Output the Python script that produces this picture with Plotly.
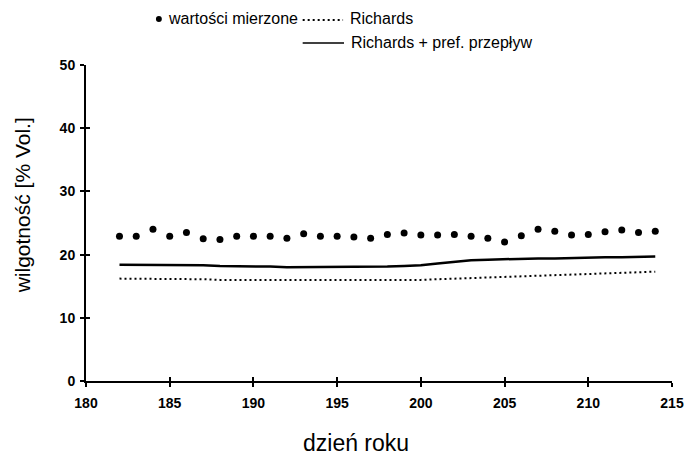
import plotly.graph_objects as go

days = list(range(182, 215))

measured = [22.9, 22.9, 24.0, 22.9, 23.5, 22.5, 22.4, 22.9, 22.9, 22.9,
            22.6, 23.3, 22.9, 22.9, 22.8, 22.6, 23.2, 23.4, 23.1, 23.1,
            23.2, 22.9, 22.6, 22.0, 23.0, 24.0, 23.7, 23.1, 23.2, 23.6,
            23.9, 23.5, 23.7]

richards_pref = [18.4, 18.4, 18.4, 18.3, 18.3, 18.3, 18.2, 18.2, 18.1, 18.1,
                 18.0, 18.0, 18.0, 18.0, 18.1, 18.1, 18.1, 18.2, 18.3, 18.6,
                 18.9, 19.1, 19.2, 19.3, 19.3, 19.4, 19.4, 19.5, 19.5, 19.6,
                 19.6, 19.6, 19.7]

richards = [16.2, 16.2, 16.2, 16.1, 16.1, 16.1, 16.0, 16.0, 16.0, 16.0,
            15.9, 15.9, 15.9, 15.9, 15.9, 15.9, 15.9, 15.95, 16.0, 16.1,
            16.2, 16.3, 16.4, 16.5, 16.6, 16.7, 16.8, 16.9, 17.0, 17.1,
            17.2, 17.25, 17.3]

x_ticks = [180, 185, 190, 195, 200, 205, 210, 215]
y_ticks = [0, 10, 20, 30, 40, 50]

legend_labels = ["wartości mierzone", "Richards", "Richards + pref. przepływ"]
x_title = "dzień roku"
y_title = "wilgotność [% Vol.]"

FONT = "Liberation Sans, Arial, sans-serif"

fig = go.Figure()
fig.add_trace(go.Scatter(x=days, y=richards_pref, mode="lines",
                         line=dict(color="black", width=2.5), showlegend=False))
fig.add_trace(go.Scatter(x=days, y=richards, mode="lines",
                         line=dict(color="black", width=2, dash="2px,3px"), showlegend=False))
fig.add_trace(go.Scatter(x=days, y=measured, mode="markers",
                         marker=dict(color="black", size=7, symbol="circle"), showlegend=False))

axis_common = dict(showgrid=False, zeroline=False, showline=True, linecolor="black",
                   linewidth=2, tickcolor="black", tickwidth=2, ticklen=4)

fig.update_layout(
    width=696, height=458,
    margin=dict(l=86, r=15, t=65, b=77),
    paper_bgcolor="white", plot_bgcolor="white",
    font=dict(family=FONT, color="black"),
    xaxis=dict(range=[180, 215], tickvals=x_ticks, ticks="outside",
               ticklabelstandoff=4,
               tickfont=dict(family=FONT, size=14, weight="bold"), **axis_common),
    yaxis=dict(range=[0, 50], tickvals=y_ticks, ticks="outside",
               ticklabelstandoff=2,
               tickfont=dict(family=FONT, size=14, weight="bold"), **axis_common),
    xaxis2=dict(range=[180, 215], tickvals=x_ticks, ticks="inside", overlaying="x",
                anchor="y", side="bottom", showticklabels=False, **axis_common),
    yaxis2=dict(range=[0, 50], tickvals=y_ticks, ticks="inside", overlaying="y",
                anchor="x", side="left", showticklabels=False, **axis_common),
)
# invisible trace to activate the overlay axes (ticks crossing the axis lines)
fig.add_trace(go.Scatter(x=[180], y=[0], xaxis="x2", yaxis="y2", mode="markers",
                         marker=dict(opacity=0), showlegend=False, hoverinfo="skip"))

# axis titles
fig.add_annotation(text=y_title, xref="paper", yref="paper", x=-0.108, y=0.555,
                   textangle=-90, showarrow=False, xanchor="center", yanchor="middle",
                   font=dict(family=FONT, size=21))
fig.add_annotation(text=x_title, xref="paper", yref="paper", x=0.4605, y=-0.197,
                   showarrow=False, xanchor="center", yanchor="middle",
                   font=dict(family=FONT, size=23))

# legend (drawn as decorations above the plot)
def px2x(px):
    return (px - 86) / 595.0

def py2y(py):
    return (381 - py) / 316.0

fig.add_shape(type="circle", xref="paper", yref="paper",
              x0=px2x(157), x1=px2x(163), y0=py2y(22), y1=py2y(16),
              fillcolor="black", line=dict(color="black", width=0))
fig.add_annotation(text=legend_labels[0], xref="paper", yref="paper", x=px2x(167), y=py2y(19),
                   xanchor="left", yanchor="middle", showarrow=False,
                   font=dict(family=FONT, size=16))
fig.add_shape(type="line", xref="paper", yref="paper",
              x0=px2x(306), x1=px2x(347), y0=py2y(20), y1=py2y(20),
              line=dict(color="black", width=2, dash="2px,3px"))
fig.add_annotation(text=legend_labels[1], xref="paper", yref="paper", x=px2x(352), y=py2y(19),
                   xanchor="left", yanchor="middle", showarrow=False,
                   font=dict(family=FONT, size=16))
fig.add_shape(type="line", xref="paper", yref="paper",
              x0=px2x(306), x1=px2x(348), y0=py2y(43), y1=py2y(43),
              line=dict(color="black", width=1.5))
fig.add_annotation(text=legend_labels[2], xref="paper", yref="paper", x=px2x(353), y=py2y(42),
                   xanchor="left", yanchor="middle", showarrow=False,
                   font=dict(family=FONT, size=16))

fig.write_html("out.html", config={"displayModeBar": False},
               post_script="document.body.style.margin='0';")
